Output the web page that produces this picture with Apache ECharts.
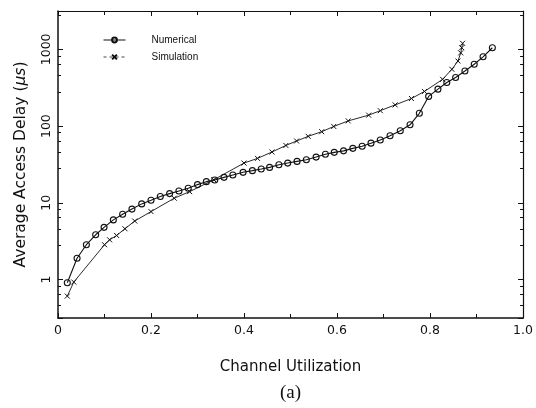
<!DOCTYPE html>
<html>
<head>
<meta charset="utf-8">
<script src="https://cdn.jsdelivr.net/npm/echarts@6/dist/echarts.min.js"></script>
<style>html,body{margin:0;padding:0;background:#fff;}#c{width:536px;height:408px;}</style>
</head>
<body>
<div id="c"></div>
<script>
// Numerical (circles)
var numX = [0.020,0.041,0.061,0.081,0.099,0.119,0.139,0.159,0.180,0.200,0.220,0.240,0.260,0.280,0.300,0.319,0.337,0.357,0.376,0.398,0.418,0.437,0.455,0.475,0.494,0.514,0.534,0.555,0.575,0.594,0.614,0.634,0.654,0.673,0.693,0.714,0.736,0.757,0.777,0.797,0.817,0.836,0.855,0.875,0.895,0.914,0.934];
var numY = [0.91,1.9,2.85,3.84,4.8,6.0,7.1,8.3,9.7,10.8,12.1,13.2,14.3,15.5,17.3,18.9,19.9,21.5,23.1,25,26.3,27.6,29,31.4,33,34.7,36.4,39.5,43,45.5,47.6,51.3,54.6,60,66,75,87,104,147,244,303,370,430,523,640,800,1050];
// Simulation (crosses)
var simX = [0.020,0.034,0.100,0.111,0.126,0.144,0.165,0.200,0.250,0.283,0.335,0.400,0.429,0.460,0.490,0.513,0.538,0.567,0.593,0.624,0.668,0.693,0.725,0.760,0.788,0.827,0.847,0.860,0.866,0.868,0.870];
var simY = [0.61,0.93,2.85,3.3,3.76,4.6,5.8,7.7,11.5,14.0,20,33,38,46,56,64,73.6,84.6,99,117,139,159,189,229,283,407,550,705,900,1050,1200];
// Axis
var xTicks = [0, 0.2, 0.4, 0.6, 0.8, 1.0];
var yMin = 0.3162, yMax = 3162.3;

function zip(a, b) { return a.map(function (v, i) { return [v, b[i]]; }); }

var chart = echarts.init(document.getElementById('c'), null, {renderer: 'canvas'});
var FONT = '"Liberation Sans", Arial, sans-serif';
var WFONT = '"DejaVu Sans", sans-serif';
var INK = '#111';
var crossPath = 'path://M0,0L10,10M0,10L10,0';

chart.setOption({
  animation: false,
  backgroundColor: '#fff',
  grid: {left: 58, right: 12, top: 11, bottom: 90},
  legend: {
    left: 103, top: 35, orient: 'vertical', itemWidth: 22, itemHeight: 6, itemGap: 7,
    padding: 0,
    textStyle: {fontFamily: FONT, fontSize: 10, color: INK, padding: [0, 0, 0, 21]},
    data: [
      {name: 'Numerical', lineStyle: {width: 1}},
      {name: 'Simulation', lineStyle: {width: 1, type: [3, 3], color: '#444'}}
    ]
  },
  xAxis: [{
    type: 'value', min: 0, max: 1, interval: 0.2,
    axisLine: {onZero: false, lineStyle: {color: INK, width: 1.5}},
    axisTick: {inside: true, length: 5, lineStyle: {color: INK}},
    minorTick: {show: true, splitNumber: 2, length: 4, lineStyle: {color: INK}},
    splitLine: {show: false},
    axisLabel: {fontFamily: WFONT, fontSize: 12.5, color: INK, margin: 6,
      formatter: function (v) { return xTicks.indexOf(v) >= 0 ? (v === 0 ? '0' : v.toFixed(1)) : ''; }},
    name: 'Channel Utilization', nameLocation: 'middle', nameGap: 42,
    nameTextStyle: {fontFamily: WFONT, fontSize: 15, color: INK}
  }, {
    type: 'value', min: 0, max: 1, interval: 0.2, position: 'top',
    axisLine: {onZero: false, lineStyle: {color: INK, width: 1.2}},
    axisTick: {inside: true, length: 5, lineStyle: {color: INK}},
    minorTick: {show: true, splitNumber: 2, length: 4, lineStyle: {color: INK}},
    splitLine: {show: false}, axisLabel: {show: false}
  }],
  yAxis: [{
    type: 'log', logBase: 10, min: yMin, max: yMax, splitNumber: 4,
    axisLine: {onZero: false, lineStyle: {color: INK, width: 1.5}},
    axisTick: {inside: true, length: 5, lineStyle: {color: INK}},
    minorTick: {show: true, splitNumber: 5, length: 3, lineStyle: {color: INK}},
    splitLine: {show: false},
    axisLabel: {fontFamily: WFONT, fontSize: 12.5, color: INK, rotate: 90, margin: 5,
      showMinLabel: false, showMaxLabel: false,
      formatter: function (v) { var l = Math.log10(v); return Math.abs(l - Math.round(l)) < 1e-6 ? String(Math.round(v)) : ''; }},
    name: '{n|Average Access Delay (}{i|μs}{n|)}', nameLocation: 'middle', nameGap: 29, nameRotate: 90,
    nameTextStyle: {rich: {
      n: {fontFamily: WFONT, fontSize: 15.5, color: INK},
      i: {fontFamily: WFONT, fontSize: 15.5, color: INK, fontStyle: 'italic'}
    }}
  }, {
    type: 'log', logBase: 10, min: yMin, max: yMax, splitNumber: 4, position: 'right',
    axisLine: {onZero: false, lineStyle: {color: INK, width: 1.2}},
    axisTick: {inside: true, length: 5, lineStyle: {color: INK}},
    minorTick: {show: true, splitNumber: 5, length: 3, lineStyle: {color: INK}},
    splitLine: {show: false}, axisLabel: {show: false}
  }],
  graphic: [{
    type: 'text', left: 280, top: 384,
    style: {text: '(a)', font: '19px "Liberation Serif", "DejaVu Serif", serif', fill: INK}
  }],
  series: [{
    name: 'Numerical', type: 'line', data: zip(numX, numY),
    symbol: 'circle', symbolSize: 6, showAllSymbol: true,
    lineStyle: {color: INK, width: 1.1},
    itemStyle: {color: 'rgba(255,255,255,0)', borderColor: INK, borderWidth: 1.1},
    z: 3
  }, {
    name: 'Simulation', type: 'line', data: zip(simX, simY),
    symbol: crossPath, symbolSize: 5, showAllSymbol: true,
    lineStyle: {color: INK, width: 0.9},
    itemStyle: {color: 'rgba(255,255,255,0)', borderColor: INK, borderWidth: 1},
    z: 2
  }]
});
</script>
</body>
</html>
